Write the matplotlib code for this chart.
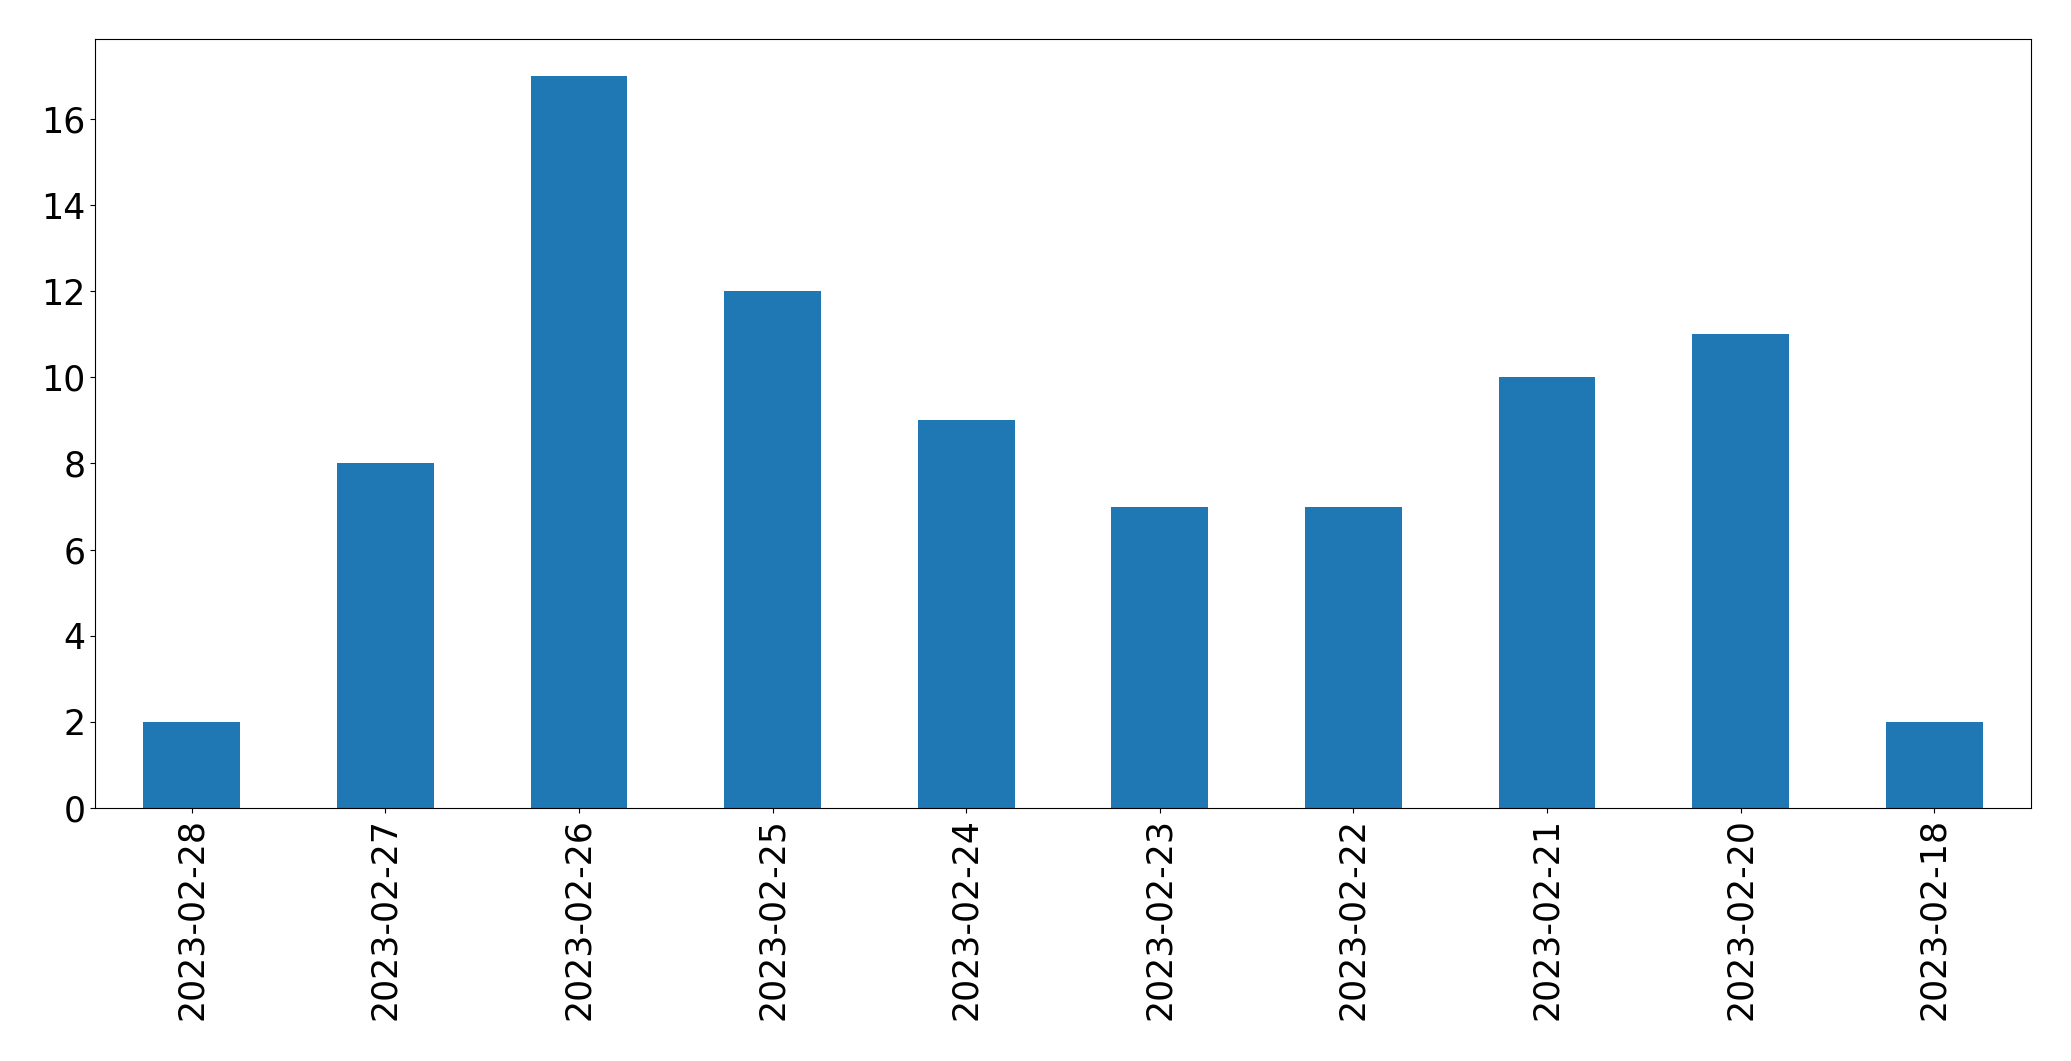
import pandas as pd
import matplotlib
matplotlib.use("Agg")
import matplotlib.pyplot as plt

# counts per day, newest first
dates = ["2023-02-28", "2023-02-27", "2023-02-26", "2023-02-25", "2023-02-24",
         "2023-02-23", "2023-02-22", "2023-02-21", "2023-02-20", "2023-02-18"]
counts = [2, 8, 17, 12, 9, 7, 7, 10, 11, 2]

s = pd.Series(counts, index=dates)

fig, ax = plt.subplots(figsize=(20.71, 10.61), dpi=100)
s.plot(kind="bar", ax=ax, color="#1f77b4", fontsize=25)
fig.subplots_adjust(left=0.0459, right=0.9807, top=0.963, bottom=0.2385)
fig.savefig("out.png")
